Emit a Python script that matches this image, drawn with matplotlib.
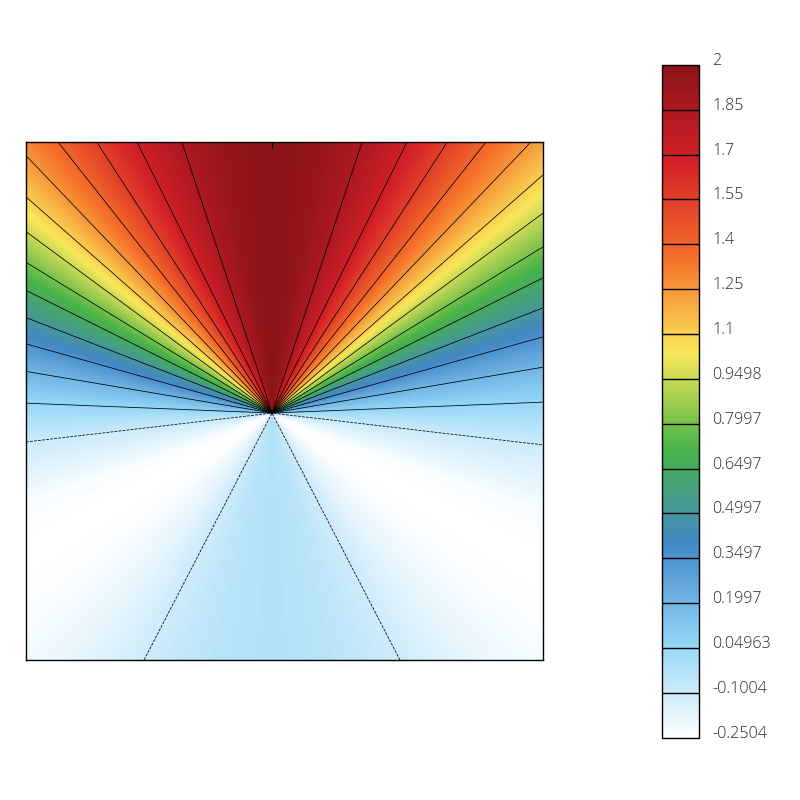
import numpy as np
import matplotlib
matplotlib.use("Agg")
import matplotlib.pyplot as plt
from matplotlib.colors import LinearSegmentedColormap
from matplotlib.transforms import ScaledTranslation

plt.rcParams['font.family'] = ['Open Sans', 'DejaVu Sans']

# Angular profile read from the frame crossings (degrees from straight up -> value)
profile_angle = [0, 9, 18.4, 26.5, 32.9, 38.3, 43.7, 48.7, 53.6, 58.5, 63.5, 68.8, 74.3,
                 80.4, 87.7, 96.7, 110, 120, 130, 142, 152.6, 165, 180]
profile_value = [2, 1.963, 1.85, 1.7, 1.55, 1.4, 1.25, 1.1, 0.9498, 0.7997, 0.6497, 0.4997,
                 0.3497, 0.1997, 0.04963, -0.1004, -0.225, -0.25, -0.23, -0.175, -0.1004, -0.05, -0.025]
tick_values = [2, 1.85, 1.7, 1.55, 1.4, 1.25, 1.1, 0.9498, 0.7997, 0.6497, 0.4997,
               0.3497, 0.1997, 0.04963, -0.1004, -0.2504]
tick_labels = ['2', '1.85', '1.7', '1.55', '1.4', '1.25', '1.1', '0.9498', '0.7997', '0.6497',
               '0.4997', '0.3497', '0.1997', '0.04963', '-0.1004', '-0.2504']
contour_levels = sorted(tick_values[1:-1])
scale_colors = ['#ffffff', '#8fd4f6', '#4488c8', '#47b347', '#fae85a', '#f5702a', '#d42028', '#8c1418']
x_range = (-246, 271)
y_range = (-247, 271)

cmap = LinearSegmentedColormap.from_list('scale', scale_colors)

fig = plt.figure(figsize=(8, 8), dpi=100)
ax = fig.add_axes([26/800, 140/800, 517/800, 518/800])

x = np.linspace(x_range[0], x_range[1], x_range[1] - x_range[0] + 1)
y = np.linspace(y_range[0], y_range[1], y_range[1] - y_range[0] + 1)
X, Y = np.meshgrid(x, y)
angle = np.degrees(np.arctan2(np.abs(X), Y))
Z = np.interp(angle, profile_angle, profile_value)

mesh = ax.pcolormesh(X, Y, Z, cmap=cmap, vmin=-0.2504, vmax=2, shading='gouraud', rasterized=True)
ax.contour(X, Y, Z, levels=contour_levels, colors='black', linewidths=0.55, antialiased=True)

ax.set_xlim(*x_range)
ax.set_ylim(*y_range)
ax.set_xticks([0])
ax.set_xticklabels([])
ax.set_yticks([])
ax.tick_params(axis='x', bottom=False, top=True, direction='in', length=4, width=0.8, color='black')
for s in ax.spines.values():
    s.set_linewidth(1)
    s.set_color('black')

cax = fig.add_axes([662/800, 62.5/800, 37/800, 672.5/800])
cb = fig.colorbar(mesh, cax=cax)
cb.outline.set_linewidth(1)
cb.outline.set_edgecolor('black')
cb.solids.set_rasterized(True)
cax.hlines(contour_levels, 0, 1, transform=cax.get_yaxis_transform(), colors='black', linewidths=1)
cb.set_ticks(tick_values, labels=tick_labels)
cax.tick_params(axis='y', length=0, pad=9.3, labelsize=11.6, labelcolor='#2a2a2a')
offset = ScaledTranslation(0, 6/100, fig.dpi_scale_trans)
for lab in cax.get_yticklabels():
    lab.set_fontweight('light')
    lab.set_transform(lab.get_transform() + offset)

fig.savefig('out.png', dpi=100)
